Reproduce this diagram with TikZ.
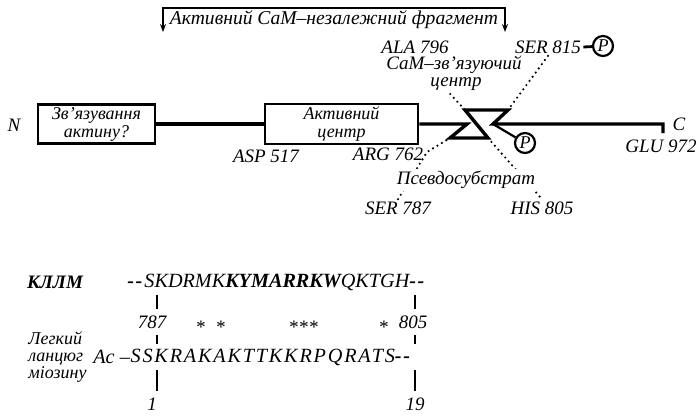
\documentclass[tikz,border=0pt]{standalone}
\usepackage{fontspec}
\setmainfont{Liberation Serif}
\usetikzlibrary{arrows.meta}
\usetikzlibrary{calc}
\usetikzlibrary{backgrounds}
\tikzset{
  % A domain box sitting on the chain
  domainbox/.style={
    draw=black, line width=1.4pt, fill=white, align=center,
    font=\fontsize{9}{9}\selectfont\itshape, inner sep=1pt},
  % The polypeptide chain
  chain/.style={line width=1.7pt, line join=miter},
  % Residue labels and names
  lbl/.style={font=\fontsize{9.5}{10}\selectfont\itshape, inner sep=1pt},
  % Dotted pointers
  dots/.style={line width=1.2pt, line cap=round, dash pattern=on 0pt off 2.6pt},
  % Phosphate mark
  phos/.style={circle, draw=black, line width=1.1pt, inner sep=0pt,
    minimum size=10pt, font=\fontsize{9}{9}\selectfont\itshape},
  % Sequence rows
  seq/.style={font=\fontsize{10.1}{11}\selectfont\itshape, inner sep=0pt, anchor=west},
  tick/.style={line width=0.9pt, shorten <=2pt, shorten >=2pt},
}
\newcommand{\seqgap}{\textbf{-\kern0.8pt-}}

\begin{document}
\begin{tikzpicture}[x=0.5pt, y=-0.5pt]
\useasboundingbox (0,0) rectangle (700,419);

% chain with the two boxes
\node[domainbox, minimum width=58.5pt, minimum height=19.5pt] (actin) at (96.5,124) {Зв'язування\\актину?};
\node[domainbox, minimum width=76.5pt, minimum height=20pt] (active) at (341.5,124) {Активний\\центр};
\node[lbl] (nterm) at (14,125) {N};
\node[lbl] (cterm) at (679,124) {C};

\coordinate (hin) at (467,124);
\coordinate (hbl) at (450,138);
\coordinate (hbr) at (488,138);
\coordinate (htl) at (465,110);
\coordinate (htr) at (508,110);
\coordinate (hout) at (493,124);
\coordinate (cend) at (663,124);
\coordinate (kink) at (427,152);

\draw[chain] (actin) -- (active);
\draw[chain] (active.east) -- (hin) -- (hbl) -- (hbr) -- (htl) -- (htr) -- (hout) -- (cend) -- ++(0,9);

\node[phos] (p1) at (525,143) {P};
\draw[line width=1.1pt] (hout) -- (p1);

% residues below the chain
\node[lbl] (asp) at (266,156) {ASP 517};
\node[lbl] (arg) at (388,154) {ARG 762};
\node[lbl, fill=white] (pseudo) at (466,180) {Псевдосубстрат};
\node[lbl] (ser787) at (398,208) {SER 787};
\node[lbl] (his) at (542,208) {HIS 805};
\node[lbl, anchor=east] (glu) at (699,146) {GLU 972};

% residues above the chain
\node[lbl] (ala) at (415,47) {ALA 796};
\node[lbl] (ser815) at (548,47) {SER 815};
\node[phos] (p2) at (603,46) {P};
\draw[line width=1.4pt] (ser815.east) -- (p2);
\node[lbl, fill=white] (cambind) at (454,65) {CaM–зв'язуючий};
\node[lbl, fill=white] (cambcentre) at (456,84) {центр};

\begin{scope}[on background layer]
  \draw[dots] (ser787.north) -- (kink) -- (hbl);
  \draw[dots] (hbr) -- (his.north);
  \draw[dots] (ala.south) -- (htl);
  \draw[dots] (ser815.south) -- (htr);
\end{scope}

% CaM-independent fragment
\coordinate (fragl) at (163,32);
\coordinate (fragr) at (505,32);
\coordinate (fragtop) at (334,8);
\draw[line width=0.8pt, {Stealth[length=4pt,width=3pt]}-{Stealth[length=4pt,width=3pt]}]
  (fragl) |- (fragtop) -| (fragr);
\node[lbl, font=\fontsize{9.8}{10}\selectfont\itshape] (frag) at (334,20) {Активний CaM–незалежний фрагмент};

% sequence alignment
\coordinate (tickl) at (157,0);
\coordinate (tickr) at (415,0);
\node[lbl, font=\fontsize{9.5}{10}\selectfont\itshape\bfseries] (mlck) at (55,282) {КЛЛМ};
\node[seq] (seqk) at (127,282) {\seqgap\kern1pt SKDRMK\textbf{KYMARRKW}QKTGH\seqgap};
\node[lbl] (n787) at (152,322) {787};
\node[lbl] (n805) at (413,322) {805};
\foreach \sx in {200,220,293,303,313,383}
  \node[lbl] at (\sx,327) {*};
\node[lbl, align=left, anchor=west, font=\fontsize{9}{8.6}\selectfont\itshape] (mlc) at (26,357) {Легкий\\ланцюг\\міозину};
\node[seq] (acgrp) at (93,357) {Ac –};
\node[seq, font=\fontsize{10.1}{11}\selectfont\itshape\addfontfeature{LetterSpace=9}] (seql) at (acgrp.east) {SSKRAKAKTTKKRPQRATS\seqgap};
\node[lbl] (n1) at (152,404) {1};
\node[lbl] (n19) at (415,404) {19};

\draw[tick] (seqk.south -| tickl) -- (n787.north -| tickl);
\draw[tick] (seqk.south -| tickr) -- (n805.north -| tickr);
\draw[tick] (n787.south -| tickl) -- (seql.north -| tickl);
\draw[tick] (n805.south -| tickr) -- (seql.north -| tickr);
\draw[tick] (seql.south -| tickl) -- (n1.north -| tickl);
\draw[tick] (seql.south -| tickr) -- (n19.north -| tickr);

\end{tikzpicture}
\end{document}
